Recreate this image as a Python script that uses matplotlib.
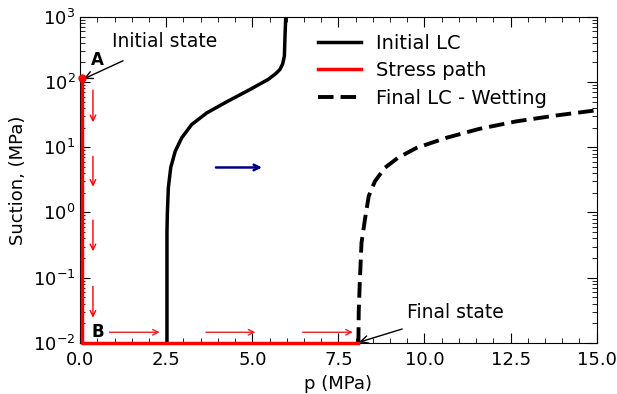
import numpy as np
import matplotlib
matplotlib.use('Agg')
import matplotlib.pyplot as plt

# Initial loading-collapse curve (p in MPa, suction in MPa)
lc0_p = [2.52, 2.52, 2.52, 2.53, 2.56, 2.63, 2.76, 2.95, 3.24, 3.68, 4.26,
         4.93, 5.46, 5.68, 5.80, 5.88, 5.93, 5.95, 5.97]
lc0_s = [0.01, 0.1, 0.5, 0.93, 2.4, 4.9, 8.7, 14, 22.4, 33.8, 50,
         77, 110, 135, 156, 190, 250, 537, 1000]

# Final loading-collapse curve after wetting
lc1_p = [8.08, 8.09, 8.12, 8.17, 8.27, 8.38, 8.56, 8.85, 9.23, 9.77, 10.64,
         11.60, 12.67, 13.83, 15.0]
lc1_s = [0.01, 0.03, 0.083, 0.34, 0.78, 1.78, 3.0, 4.85, 6.9, 9.8, 14,
         19.2, 25, 30.8, 37]

# Stress path: wetting from A to B, then loading to the final state
path_p = [0.05, 0.05, 8.08]
path_s = [115, 0.01, 0.01]

# Small direction arrows along the path
down_arrows = [(83, 22), (8, 2.25), (0.84, 0.23), (0.081, 0.022)]
right_arrows = [(0.77, 2.39), (3.57, 5.17), (6.38, 8.0)]
arrow_x = 0.37
arrow_y = 0.0145

fig, ax = plt.subplots(figsize=(6.17, 3.94), dpi=100)
fig.subplots_adjust(left=0.13, right=0.967, top=0.957, bottom=0.13)

ax.plot(lc0_p, lc0_s, color='black', lw=2.5, label='Initial LC')
ax.plot(path_p, path_s, color='red', lw=2.5, label='Stress path', clip_on=False, zorder=5)
ax.plot(lc1_p, lc1_s, color='black', lw=2.8, ls='--', dashes=(4, 1.8),
        label='Final LC - Wetting')
ax.plot([0.05], [115], 'o', color='red', ms=5, clip_on=False, zorder=6)

for s0, s1 in down_arrows:
    ax.annotate('', xy=(arrow_x, s1), xytext=(arrow_x, s0),
                arrowprops=dict(arrowstyle='->', color='red', lw=1))
for p0, p1 in right_arrows:
    ax.annotate('', xy=(p1, arrow_y), xytext=(p0, arrow_y),
                arrowprops=dict(arrowstyle='->', color='#e8202a', lw=1))

# Shift of the LC curve
ax.annotate('', xy=(5.36, 4.9), xytext=(3.86, 4.9),
            arrowprops=dict(arrowstyle='->', color='navy', lw=1.8))

ax.annotate('Initial state', xy=(0.1, 112), xytext=(2.46, 420),
            ha='center', va='center', fontsize=13.5,
            arrowprops=dict(arrowstyle='->', color='black', lw=1,
                            shrinkA=12, shrinkB=0))
ax.annotate('Final state', xy=(8.1, 0.0102), xytext=(10.9, 0.029),
            ha='center', va='center', fontsize=13.5,
            arrowprops=dict(arrowstyle='->', color='black', lw=1,
                            shrinkA=10, shrinkB=0))
ax.text(0.5, 220, 'A', fontsize=12, fontweight='bold', ha='center', va='center')
ax.text(0.5, 0.0145, 'B', fontsize=12, fontweight='bold', ha='center', va='center')

ax.set_yscale('log')
ax.set_xlim(0, 15)
ax.set_ylim(1e-2, 1e3)
ax.set_xticks([0, 2.5, 5.0, 7.5, 10.0, 12.5, 15.0])
ax.set_xticklabels(['0.0', '2.5', '5.0', '7.5', '10.0', '12.5', '15.0'])
ax.set_xticks(np.arange(0, 15.01, 0.5), minor=True)
ax.tick_params(which='both', direction='in', top=True, right=True, labelsize=13)
ax.tick_params(axis='x', which='major', pad=6)
ax.tick_params(which='major', length=7)
ax.tick_params(which='minor', length=3.5)
ax.set_xlabel('p (MPa)', fontsize=13, labelpad=4)
ax.set_ylabel('Suction, (MPa)', fontsize=13)

ax.legend(loc='upper left', bbox_to_anchor=(0.445, 0.973), frameon=False,
          fontsize=14, handlelength=2.2, borderaxespad=0, labelspacing=0.45)

fig.savefig('out.png', dpi=100)
